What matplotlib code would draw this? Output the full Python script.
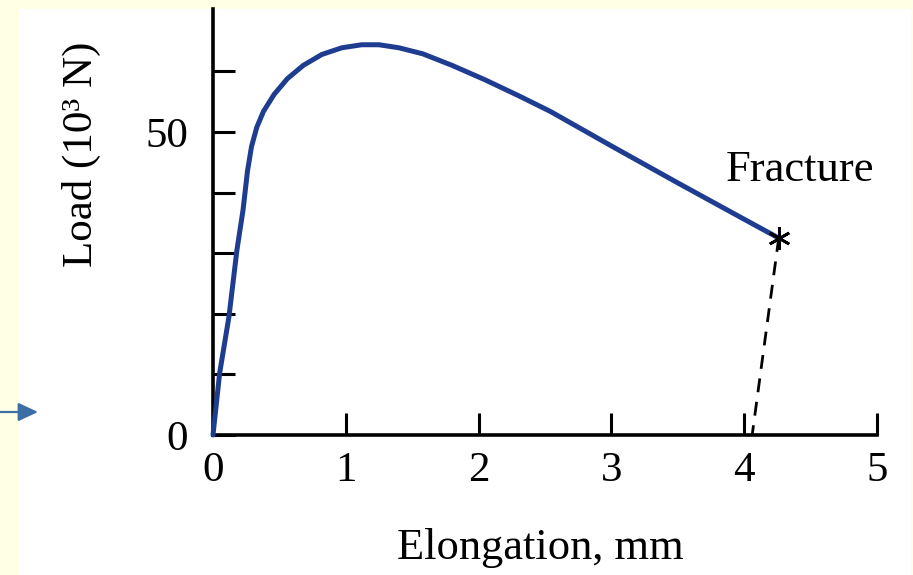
import matplotlib.pyplot as plt
from matplotlib.patches import Rectangle, FancyArrowPatch

# load-elongation curve
elongation = [0, 0.05, 0.12, 0.18, 0.226, 0.26, 0.29, 0.33, 0.38, 0.46, 0.56, 0.68,
              0.82, 0.97, 1.12, 1.25, 1.40, 1.58, 1.80, 2.05, 2.30, 2.54,
              3.0, 3.5, 4.0, 4.26]
load = [0, 10.2, 19.5, 30.5, 37.1, 43.6, 47.6, 50.8, 53.4, 56.2, 58.8, 61.0,
        62.8, 63.9, 64.4, 64.4, 63.9, 62.9, 61.0, 58.6, 56.0, 53.4,
        47.7, 41.6, 35.6, 32.5]

# dashed unloading line after fracture
unload_x = [4.26, 4.06]
unload_y = [32.5, 0]

xticks = [0, 1, 2, 3, 4, 5]
yticks = [0, 10, 20, 30, 40, 50, 60]
ylabels = ['0', '', '', '', '', '50', '']

plt.rcParams['font.family'] = ['Liberation Serif', 'DejaVu Serif']

fig = plt.figure(figsize=(9.13, 5.75), dpi=100)
fig.patch.set_facecolor('#FFFFE6')
fig.add_artist(Rectangle((19/913, 0), 892/913, 566/575, transform=fig.transFigure,
                         facecolor='white', edgecolor='none', zorder=-10))

ax = fig.add_axes([213/913, 140/575, 664/913, 426/575])
ax.set_facecolor('none')

ax.plot(elongation, load, color='#1f3d90', lw=3.6, solid_capstyle='round',
        solid_joinstyle='round', zorder=3, clip_on=False)
ax.plot(unload_x, unload_y, color='black', lw=2.0, linestyle=(0, (5, 3.5)), zorder=2)
ax.plot([elongation[-1]], [load[-1]], marker=(6, 2, 0), ms=16, mew=2.0,
        color='black', zorder=4)
ax.text(4.42, 43.7, 'Fracture', fontsize=32, ha='center', va='center')

ax.set_xlim(0, 5)
ax.set_ylim(0, 70.3)
ax.set_xticks(xticks)
ax.set_yticks(yticks)
ax.set_yticklabels(ylabels)
ax.tick_params(direction='in', length=16, width=2.2, labelsize=31)
ax.tick_params(axis='x', pad=12)
ax.tick_params(axis='y', pad=18)
for s in ['top', 'right']:
    ax.spines[s].set_visible(False)
for s in ['left', 'bottom']:
    ax.spines[s].set_linewidth(2.6)

ax.set_ylabel('Load (10³ N)', fontsize=31)
ax.yaxis.set_label_coords(-112/664, 0.66)
fig.text(540/913, 1 - 548/575, 'Elongation, mm', fontsize=32, ha='center', va='center')

# little arrow at the far left
fig.add_artist(FancyArrowPatch(
    (0, 1 - 412/575), (38/913, 1 - 412/575), transform=fig.transFigure,
    arrowstyle='-|>,head_length=0.6,head_width=0.28', mutation_scale=20,
    shrinkA=0, shrinkB=0, color='#3A6EA5', lw=1.6))

plt.savefig('out.png', dpi=100, facecolor=fig.get_facecolor())
